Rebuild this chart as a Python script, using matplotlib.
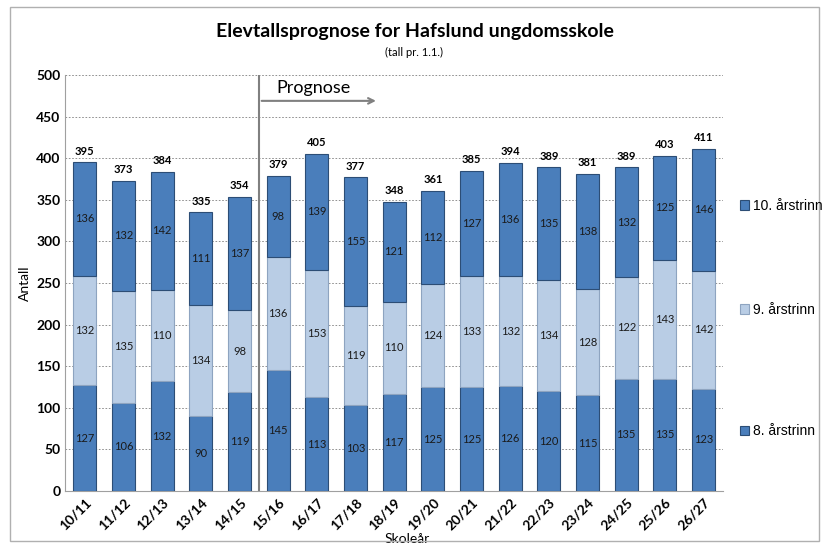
import matplotlib.pyplot as plt
import numpy as np
from matplotlib.patches import Rectangle

years = ['10/11', '11/12', '12/13', '13/14', '14/15', '15/16', '16/17', '17/18', '18/19',
         '19/20', '20/21', '21/22', '22/23', '23/24', '24/25', '25/26', '26/27']
trinn8 = [127, 106, 132, 90, 119, 145, 113, 103, 117, 125, 125, 126, 120, 115, 135, 135, 123]
trinn9 = [132, 135, 110, 134, 98, 136, 153, 119, 110, 124, 133, 132, 134, 128, 122, 143, 142]
trinn10 = [136, 132, 142, 111, 137, 98, 139, 155, 121, 112, 127, 136, 135, 138, 132, 125, 146]
totals = [395, 373, 384, 335, 354, 379, 405, 377, 348, 361, 385, 394, 389, 381, 389, 403, 411]

dark = '#4a7ebb'
light = '#b9cde5'
edge = '#2c4d75'

plt.rcParams['font.family'] = ['Lato', 'DejaVu Sans']

fig = plt.figure(figsize=(8.29, 5.48), dpi=100)
ax = fig.add_axes([0.079, 0.104, 0.793, 0.759])

x = np.arange(len(years))
w = 0.6
b8 = np.array(trinn8)
b9 = np.array(trinn9)
b10 = np.array(trinn10)
ax.bar(x, b8, w, color=dark, edgecolor=edge, linewidth=0.8, label='8. årstrinn', zorder=3)
ax.bar(x, b9, w, bottom=b8, color=light, edgecolor='#8ea4c0', linewidth=0.8, label='9. årstrinn', zorder=3)
ax.bar(x, b10, w, bottom=b8 + b9, color=dark, edgecolor=edge, linewidth=0.8, label='10. årstrinn', zorder=3)

for i in range(len(years)):
    ax.text(x[i], b8[i] / 2, str(b8[i]), ha='center', va='center', fontsize=8, color='#1a1a1a', zorder=4)
    ax.text(x[i], b8[i] + b9[i] / 2, str(b9[i]), ha='center', va='center', fontsize=8, color='#1a1a1a', zorder=4)
    ax.text(x[i], b8[i] + b9[i] + b10[i] / 2, str(b10[i]), ha='center', va='center', fontsize=8, color='#1a1a1a', zorder=4)
    ax.text(x[i], totals[i] + 7, str(totals[i]), ha='center', va='bottom', fontsize=8, fontweight='bold', zorder=4)

ax.set_xlim(-0.5, len(years) - 0.5)
ax.set_ylim(0, 500)
ax.set_yticks(range(0, 501, 50))
ax.set_xticks(x)
ax.set_xticklabels(years, rotation=45, ha='right', rotation_mode='anchor', fontweight='bold', fontsize=10)
ax.tick_params(axis='y', labelsize=10, length=0)
for lab in ax.get_yticklabels():
    lab.set_fontweight('bold')
ax.tick_params(axis='x', length=0)
ax.grid(axis='y', color='#808080', linestyle=(0, (2, 2)), linewidth=0.6, zorder=0)
for s in ['top', 'right']:
    ax.spines[s].set_visible(False)
ax.spines['left'].set_color('#a0a0a0')
ax.spines['bottom'].set_color('#a0a0a0')

ax.axvline(4.5, color='#808080', linewidth=1.5, zorder=5)
ax.annotate('', xy=(7.6, 469), xytext=(4.5, 469),
            arrowprops=dict(arrowstyle='->', color='#808080', lw=1.5))
ax.text(4.95, 475, 'Prognose', fontsize=13, va='bottom', ha='left')

ax.set_ylabel('Antall', fontsize=10)
ax.set_xlabel('Skoleår', fontsize=10)
ax.xaxis.set_label_coords(0.52, -0.1)

fig.text(0.5, 0.942, 'Elevtallsprognose for Hafslund ungdomsskole', ha='center', va='center',
         fontsize=14, fontweight='bold')
fig.text(0.5, 0.905, '(tall pr. 1.1.)', ha='center', va='center', fontsize=8)

handles, labels = ax.get_legend_handles_labels()
legend_y = [0.625, 0.435, 0.213]
order = [2, 1, 0]
for k, yy in zip(order, legend_y):
    fig.legend([handles[k]], [labels[k]], loc='center left', bbox_to_anchor=(0.877, yy),
               frameon=False, handlelength=0.7, handleheight=0.7, handletextpad=0.3,
               prop={'family': 'Liberation Sans', 'size': 10})

fig.patches.append(Rectangle((0.012, 0.012), 0.976, 0.976, transform=fig.transFigure,
                             fill=False, edgecolor='#b0b0b0', linewidth=1))

fig.savefig('out.png', dpi=100)
